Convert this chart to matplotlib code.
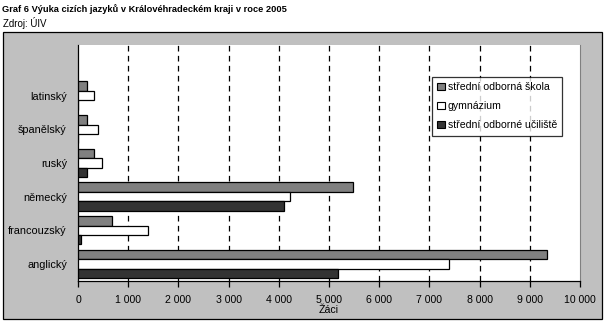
import matplotlib
matplotlib.use("Agg")
import matplotlib.pyplot as plt
from matplotlib.patches import Rectangle, Patch
import numpy as np

categories = ["anglický", "francouzský", "německý", "ruský", "španělský", "latinský"]
series_names = ["střední odborná škola", "gymnázium", "střední odborné učiliště"]
sos = [9350, 670, 5470, 310, 170, 170]
gym = [7390, 1400, 4220, 470, 390, 310]
sou = [5180, 50, 4100, 170, 0, 0]
xticks = [0, 1000, 2000, 3000, 4000, 5000, 6000, 7000, 8000, 9000, 10000]
xtick_labels = ["0", "1 000", "2 000", "3 000", "4 000", "5 000", "6 000", "7 000", "8 000", "9 000", "10 000"]
colors = ["#808080", "#ffffff", "#333333"]

plt.rcParams['font.family'] = ['Liberation Sans', 'DejaVu Sans']

W, H = 605, 323
fig = plt.figure(figsize=(W / 100, H / 100), dpi=100)
fig.patch.set_facecolor("white")

def px(x, y):
    return x / W, 1 - y / H

# gray chart area
fig.patches.append(Rectangle((2.5 / W, 1 - 318.5 / H), 599 / W, 287 / H,
                             transform=fig.transFigure, facecolor="#c0c0c0",
                             edgecolor="black", linewidth=0.9, zorder=-5))

fig.text(*px(2, 9), "Graf 6 Výuka cizích jazyků v Královéhradeckém kraji v roce 2005",
         fontsize=6.65, fontweight="bold", va="center", ha="left")
fig.text(*px(3, 23), "Zdroj: ÚIV", fontsize=7.0, va="center", ha="left")

left, right, top, bottom = 78, 580, 45, 280.7
ax = fig.add_axes([left / W, 1 - bottom / H, (right - left) / W, (bottom - top) / H])
ax.set_facecolor("white")

y = np.arange(len(categories))
h = 1 / 3.6
for i, (vals, c, name) in enumerate(zip([sos, gym, sou], colors, series_names)):
    ax.barh(y + (1 - i) * h, vals, height=h, color=c, edgecolor="black",
            linewidth=0.9, label=name, zorder=3)

ax.set_xlim(0, 10000)
ax.set_ylim(-0.5, 6.5)
ax.set_xticks(xticks)
ax.set_xticklabels(xtick_labels, fontsize=7.6)
ax.set_yticks(y)
ax.set_yticklabels(categories, fontsize=7.8)
ax.tick_params(axis="y", length=0, pad=8)
ax.tick_params(axis="x", length=4, width=0.9, direction="out", pad=6)
for v in xticks[1:-1]:
    ax.axvline(v, color="black", linewidth=0.9, linestyle=(0, (4.5, 3.5)), zorder=1)
ax.spines["top"].set_visible(False)
ax.spines["right"].set_color("#808080")
ax.spines["left"].set_linewidth(0.9)
ax.spines["bottom"].set_linewidth(0.9)
ax.set_xlabel("Žáci", fontsize=7.6, labelpad=0.5)

handles = [Patch(facecolor=c, edgecolor="black", linewidth=0.8) for c in colors]
leg = ax.legend(handles, series_names, loc="upper left",
                bbox_to_anchor=((432 - left) / (right - left), 1 - (77 - top) / (bottom - top)),
                fontsize=7.6, frameon=True, fancybox=False, edgecolor="black",
                handlelength=0.7, handleheight=0.7, handletextpad=0.3,
                borderpad=0.5, labelspacing=0.85, borderaxespad=0)
leg.get_frame().set_linewidth(0.9)

fig.savefig("out.png", dpi=100)
